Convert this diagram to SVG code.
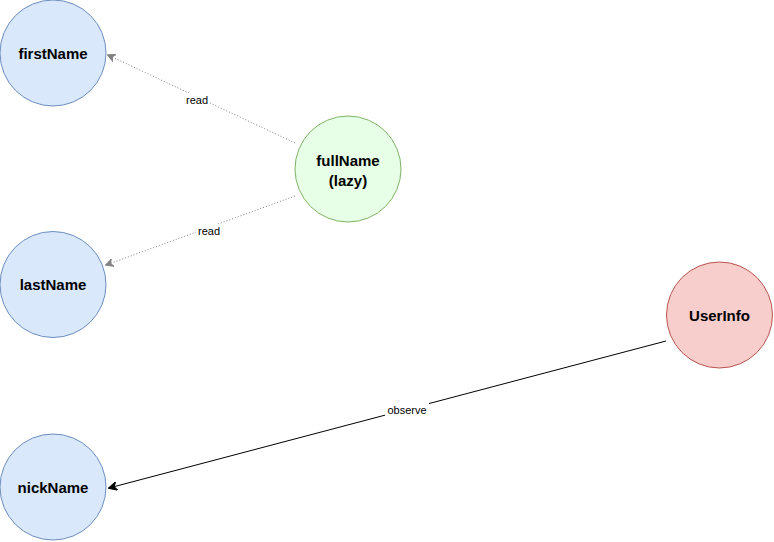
<svg xmlns="http://www.w3.org/2000/svg" width="774" height="542" viewBox="0 0 774 542">
<defs>
<style>
.blue{fill:#dae8fc;stroke:#6c8ebf;stroke-width:1}
.green{fill:#e6ffe6;stroke:#82b366;stroke-width:1}
.red{fill:#f8cecc;stroke:#b85450;stroke-width:1}
.nt{font-family:"Liberation Sans",Arial,sans-serif;font-size:15px;font-weight:bold;fill:#000;text-anchor:middle}
.lt{font-family:"Liberation Sans",Arial,sans-serif;font-size:11px;fill:#000;text-anchor:middle}
.dot{fill:none;stroke:#808080;stroke-width:1;stroke-dasharray:1 2}
.sol{fill:none;stroke:#000;stroke-width:1}
</style>
<marker id="ag" viewBox="0 0 10 10" refX="9" refY="5" markerWidth="8" markerHeight="8" orient="auto" markerUnits="userSpaceOnUse">
<path d="M0,0 L10,5 L0,10 L3,5 Z" fill="#808080" stroke="#808080"/>
</marker>
<marker id="ab" viewBox="0 0 10 10" refX="9" refY="5" markerWidth="9" markerHeight="9" orient="auto" markerUnits="userSpaceOnUse">
<path d="M0,0 L10,5 L0,10 L3,5 Z" fill="#000" stroke="#000"/>
</marker>
</defs>
<rect width="774" height="542" fill="#fff"/>
<g id="connectors">
<path class="dot" d="M295,143 L108,55" marker-end="url(#ag)"/>
<path class="dot" d="M295,196 L106,265" marker-end="url(#ag)"/>
<path class="sol" d="M666,341 L109,488" marker-end="url(#ab)"/>
<rect x="184" y="93" width="26" height="13" fill="#fff"/>
<text class="lt" x="197" y="104">read</text>
<rect x="196" y="224" width="26" height="13" fill="#fff"/>
<text class="lt" x="209" y="235">read</text>
<rect x="385" y="403" width="44" height="13" fill="#fff"/>
<text class="lt" x="407" y="414">observe</text>
</g>
<g id="firstName">
<circle class="blue" cx="53" cy="53" r="53"/>
<text class="nt" x="53" y="59">firstName</text>
</g>
<g id="lastName">
<circle class="blue" cx="53" cy="284.5" r="53"/>
<text class="nt" x="53" y="290">lastName</text>
</g>
<g id="nickName">
<circle class="blue" cx="53" cy="487" r="53"/>
<text class="nt" x="53" y="493">nickName</text>
</g>
<g id="fullName">
<circle class="green" cx="348" cy="169" r="53"/>
<text class="nt" x="348" y="166">fullName</text>
<text class="nt" x="348" y="186">(lazy)</text>
</g>
<g id="UserInfo">
<circle class="red" cx="719.5" cy="315" r="53"/>
<text class="nt" x="719.5" y="321">UserInfo</text>
</g>
</svg>
